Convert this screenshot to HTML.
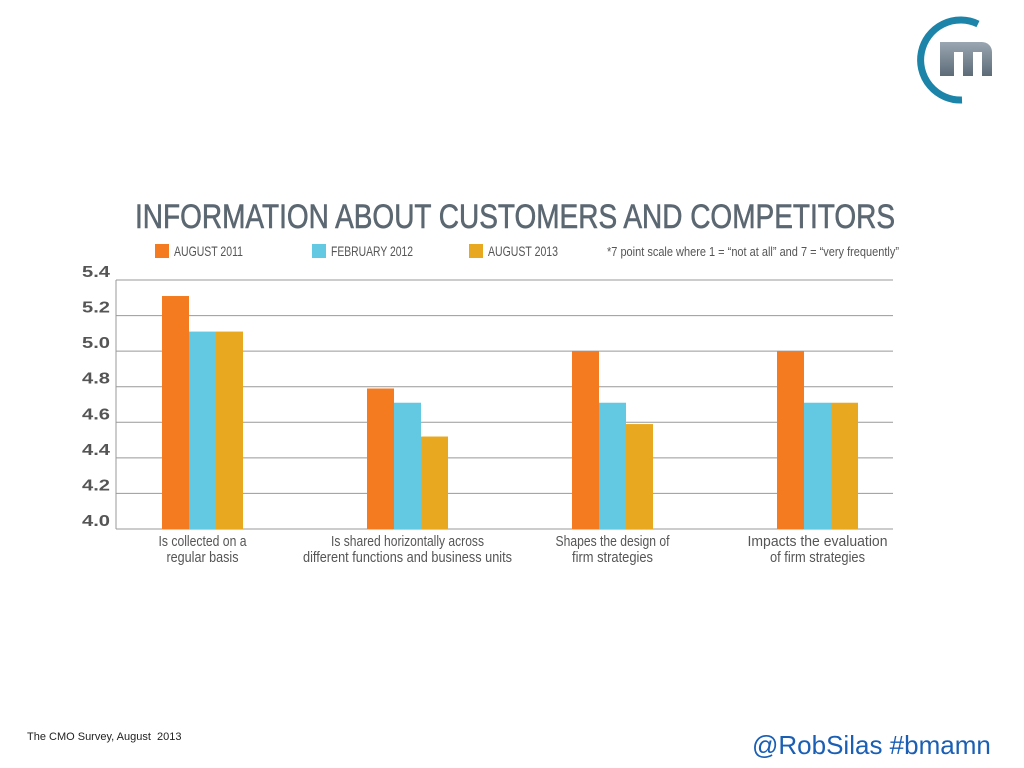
<!DOCTYPE html>
<html><head><meta charset="utf-8"><style>
body{margin:0;width:1024px;height:768px;background:#fff;overflow:hidden;position:relative;font-family:"Liberation Sans",sans-serif}
</style></head><body>
<svg width="1024" height="768" style="position:absolute;left:0;top:0">
<defs><linearGradient id="lg" x1="0" y1="0" x2="0" y2="1"><stop offset="0" stop-color="#9aa7b2"/><stop offset="1" stop-color="#5d6b78"/></linearGradient></defs>
<path d="M978,24 A40,40 0 1 0 962,100" fill="none" stroke="#1b84a8" stroke-width="7"/>
<path d="M940,42 h42 a10,10 0 0 1 10,10 v24 h-10 v-24 h-9 v24 h-10 v-24 h-9 v24 h-14 z" fill="url(#lg)"/>
</svg>
<svg id="chart" width="1024" height="768" style="position:absolute;left:0;top:0"></svg>
<div style="position:absolute;left:27px;top:731px;font-size:11px;color:#222">The CMO Survey, August&nbsp; 2013</div>
<div style="position:absolute;left:752px;top:730px;font-size:26px;color:#1a5fb4">@RobSilas #bmamn</div>
<script>
const categories=[["Is collected on a","regular basis"],["Is shared horizontally across","different functions and business units"],["Shapes the design of","firm strategies"],["Impacts the evaluation","of firm strategies"]];
const seriesNames=["AUGUST 2011","FEBRUARY 2012","AUGUST 2013"];
const aug2011=[5.31,4.79,5.0,5.0];
const feb2012=[5.11,4.71,4.71,4.71];
const aug2013=[5.11,4.52,4.59,4.71];
const yTicks=[4.0,4.2,4.4,4.6,4.8,5.0,5.2,5.4];
const colors=["#f47b20","#63c9e3","#e8a920"];
const series=[aug2011,feb2012,aug2013];
const catLen=[[88,72],[153,209],[114,81],[140,95]];
const legLen=[69,82,70];
const svg=document.getElementById('chart');const NS="http://www.w3.org/2000/svg";
function mk(t,a,txt){const e=document.createElementNS(NS,t);for(const k in a)e.setAttribute(k,a[k]);if(txt!=null)e.textContent=txt;svg.appendChild(e);return e;}
const y=v=>529-(v-4.0)/1.4*249;
const band=205,x0=100;const xc=i=>x0+band*(i+0.5);const bw=27;
let t=mk('text',{x:135,y:228,'font-size':34,fill:'#5b6771',stroke:'#5b6771','stroke-width':0.6,textLength:760,lengthAdjust:'spacingAndGlyphs'},'INFORMATION ABOUT CUSTOMERS AND COMPETITORS');

const lx=[155,312,469];
seriesNames.forEach((s,i)=>{
 let r=mk('rect',{x:lx[i],y:244,width:14,height:14,fill:colors[i]});
 
 let tx=mk('text',{x:lx[i]+19,y:256,'font-size':14,fill:'#555',textLength:legLen[i],lengthAdjust:'spacingAndGlyphs'},s);
 
});
let nt=mk('text',{x:607,y:256,'font-size':13,fill:'#555',textLength:292,lengthAdjust:'spacingAndGlyphs'},'*7 point scale where 1 = \u201cnot at all\u201d and 7 = \u201cvery frequently\u201d');

yTicks.forEach(v=>{
 let l=mk('line',{x1:116,x2:893,y1:y(v),y2:y(v),stroke:'#999','stroke-width':1});
 
 let tx=mk('text',{x:82,y:y(v)-3,'font-size':16,'font-weight':'bold',fill:'#555',textLength:28,lengthAdjust:'spacingAndGlyphs'},v.toFixed(1));
 
});
let ax=mk('line',{x1:116,x2:116,y1:y(5.4),y2:y(4.0),stroke:'#999'});

categories.forEach((c,i)=>{
 series.forEach((s,j)=>{
  const bx=xc(i)-1.5*bw+j*bw;
  let r=mk('rect',{x:bx,y:y(s[i]),width:bw,height:y(4.0)-y(s[i]),fill:colors[j]});
  
 });
 c.forEach((ln,k)=>{
  let tx=mk('text',{x:xc(i),y:546+k*16,'text-anchor':'middle','font-size':15,fill:'#555',textLength:catLen[i][k],lengthAdjust:'spacingAndGlyphs'},ln);
  
 });
});
</script>
</body></html>
